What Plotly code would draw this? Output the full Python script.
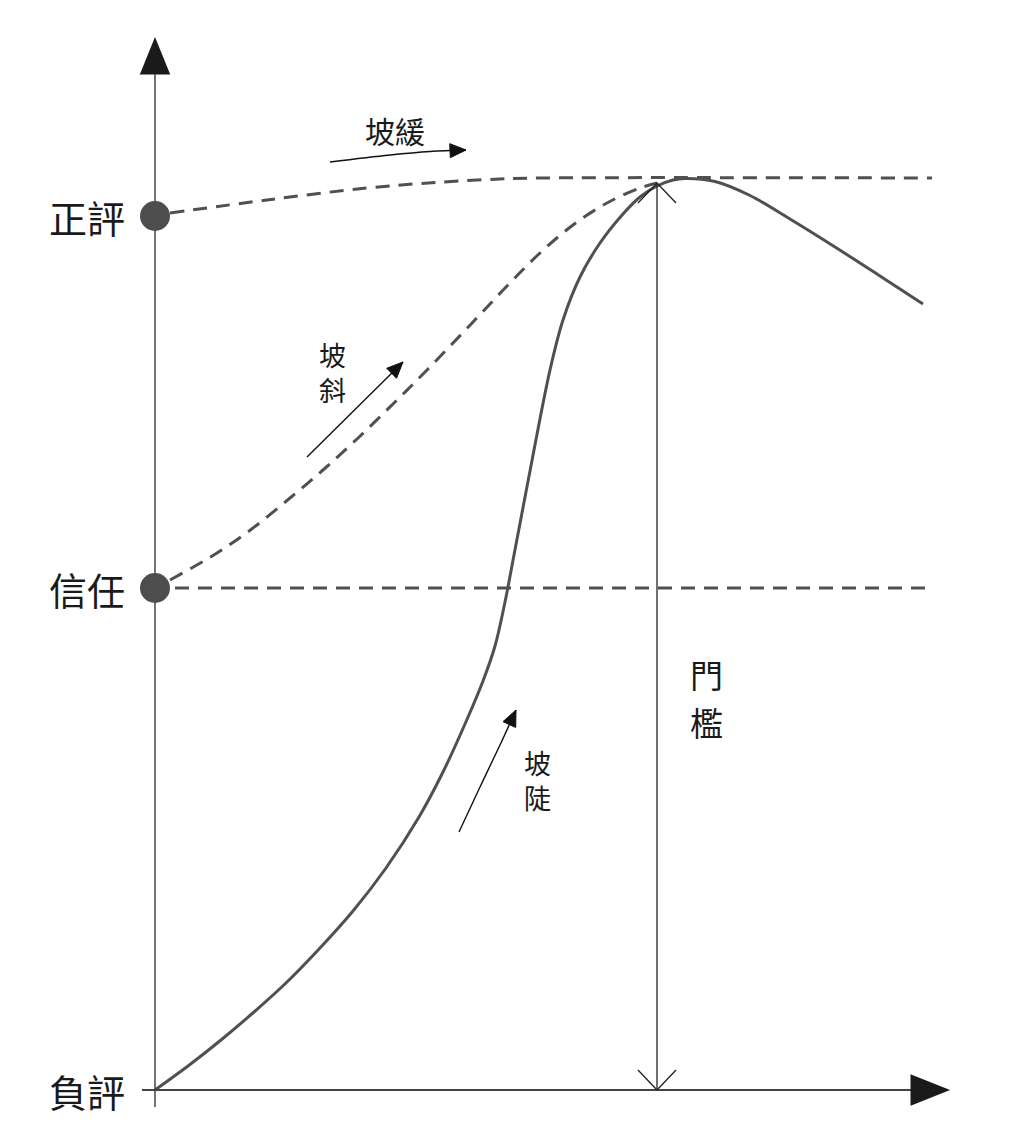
import math
import plotly.graph_objects as go

# reputation levels (y) and time (x), arbitrary units
level_names = ["負評", "信任", "正評"]
level_values = [0.0, 50.2, 87.4]
threshold_x = 50.2
threshold_y = 90.7

# steep path (solid)
steep_x = [0.0, 3.3, 6.6, 9.9, 13.2, 16.5, 19.8, 23.1, 26.4, 28.8, 31.0, 32.8, 34.0, 35.0,
           35.9, 37.5, 39.5, 40.8, 42.5, 44.5, 46.8, 48.5, 50.2, 51.8, 53.0,
           56.0, 59.5, 63.5, 68.0, 72.5, 76.8]
steep_y = [0.0, 2.4, 5.0, 7.8, 10.8, 14.2, 17.9, 22.2, 27.3, 31.8, 36.6, 40.9, 44.4, 48.8,
           53.5, 61.9, 72.0, 77.0, 81.3, 84.7, 87.6, 89.3, 90.4, 91.0, 91.15,
           90.85, 89.45, 87.1, 84.3, 81.4, 78.6]

# slanted path from trust (dashed)
slant_x = [1.5, 6.2, 9.8, 13.5, 16.8, 20.2, 23.8, 27.2, 31.8, 35.2, 38.5, 41.8, 45.2, 48.5, 50.2]
slant_y = [51.0, 53.7, 56.2, 59.2, 62.0, 65.1, 68.6, 72.0, 76.8, 80.4, 83.7, 86.5, 88.7, 90.2, 90.7]

# gentle path from positive (dashed), then flat threshold line
gentle_x = [1.5, 11.2, 21.2, 28.8, 34.5, 38.5, 77.7]
gentle_y = [87.7, 89.0, 90.2, 90.8, 91.1, 91.2, 91.2]

trust_line_x = [2.0, 77.7]

# small direction arrows beside the labels
arrow_gentle_x = [17.5, 23.5, 27.5, 31.1]
arrow_gentle_y = [92.8, 93.5, 93.85, 94.0]
arrow_slant_x = [15.2, 24.8]
arrow_slant_y = [63.3, 72.8]
arrow_steep_x = [30.4, 32.5, 34.5, 36.1]
arrow_steep_y = [25.8, 30.3, 34.5, 38.0]

x_axis_end = 75.7
y_axis_end = 101.7

CURVE = "#505050"
AXIS = "#444444"
TEXT = "#1a1a1a"
FONT = "Noto Sans CJK TC"
DASH = "14px,9px"

fig = go.Figure()

fig.add_trace(go.Scatter(x=gentle_x, y=gentle_y, mode="lines", line_shape="spline",
                         line=dict(color=CURVE, width=3, dash=DASH, smoothing=1)))
fig.add_trace(go.Scatter(x=slant_x, y=slant_y, mode="lines", line_shape="spline",
                         line=dict(color=CURVE, width=3, dash=DASH, smoothing=1)))
fig.add_trace(go.Scatter(x=trust_line_x, y=[level_values[1]] * 2, mode="lines",
                         line=dict(color=CURVE, width=3, dash=DASH)))
fig.add_trace(go.Scatter(x=steep_x, y=steep_y, mode="lines", line_shape="spline",
                         line=dict(color=CURVE, width=3, smoothing=1)))

# axes
fig.add_trace(go.Scatter(x=[0, 0], y=[-1.7, y_axis_end], mode="lines",
                         line=dict(color=AXIS, width=1.5)))
fig.add_trace(go.Scatter(x=[-1.3, x_axis_end], y=[0, 0], mode="lines",
                         line=dict(color=AXIS, width=2)))

# threshold double arrow
fig.add_trace(go.Scatter(x=[threshold_x, threshold_x], y=[0, threshold_y], mode="lines",
                         line=dict(color="#222222", width=1.3)))
for tip, sgn in [(threshold_y, -1), (0.0, 1)]:
    fig.add_trace(go.Scatter(x=[threshold_x - 1.9, threshold_x, threshold_x + 1.9],
                             y=[tip + sgn * 2.0, tip, tip + sgn * 2.0], mode="lines",
                             line=dict(color="#222222", width=1.3)))

# level dots
fig.add_trace(go.Scatter(x=[0, 0], y=level_values[1:], mode="markers",
                         marker=dict(size=30, color="#4d4d4d")))

# direction arrows
arrows = [(arrow_gentle_x, arrow_gentle_y), (arrow_slant_x, arrow_slant_y),
          (arrow_steep_x, arrow_steep_y)]
for ax_, ay_ in arrows:
    fig.add_trace(go.Scatter(x=ax_, y=ay_, mode="lines", line_shape="spline",
                             line=dict(color="#111111", width=1.4)))


def head(x, y, length=1.6, half=0.7):
    dx, dy = x[-1] - x[-2], y[-1] - y[-2]
    n = math.hypot(dx, dy)
    ux, uy = dx / n, dy / n
    bx, by = x[-1] - ux * length, y[-1] - uy * length
    return (f"M{x[-1]},{y[-1]} L{bx - uy * half},{by + ux * half} "
            f"L{bx + uy * half},{by - ux * half} Z")


shapes = []
for ax_, ay_ in arrows:
    shapes.append(dict(type="path", path=head(ax_, ay_), fillcolor="#111111",
                       line=dict(color="#111111", width=1), xref="x", yref="y"))

# axis arrowheads
shapes.append(dict(type="path", xref="x", yref="y", fillcolor="#1a1a1a",
                   line=dict(color="#1a1a1a", width=3),
                   path=f"M-1.3,{y_axis_end} L0,{y_axis_end + 3.2} L1.3,{y_axis_end} Z"))
shapes.append(dict(type="path", xref="x", yref="y", fillcolor="#1a1a1a",
                   line=dict(color="#1a1a1a", width=3),
                   path=f"M{x_axis_end},-1.35 L{x_axis_end + 3.4},0 L{x_axis_end},1.35 Z"))

annotations = []
for name, val in zip(level_names, level_values):
    annotations.append(dict(x=-2.8, y=val, text=name, showarrow=False, xanchor="right",
                            yanchor="middle", font=dict(size=38, color=TEXT, family=FONT)))

annotations.append(dict(x=24.0, y=96.0, text="坡緩", showarrow=False,
                        font=dict(size=30, color=TEXT, family=FONT)))

# vertical labels, one character per line
vertical = [("坡<br>斜", 17.7, 71.8, 27), ("坡<br>陡", 38.2, 31.0, 27)]
for word, vx, vy, size in vertical:
    annotations.append(dict(x=vx, y=vy, text=word, showarrow=False, align="center",
                            font=dict(size=size, color=TEXT, family=FONT)))

# 門檻 placed as two characters, stacked
for ch, cy in zip("門檻", [41.6, 36.8]):
    annotations.append(dict(x=55.1, y=cy, text=ch, showarrow=False,
                            font=dict(size=33, color=TEXT, family=FONT)))

fig.update_layout(
    width=1036, height=1148,
    margin=dict(l=0, r=0, t=0, b=0),
    paper_bgcolor="white", plot_bgcolor="white",
    showlegend=False,
    xaxis=dict(range=[-14.7, 88.9], visible=False, fixedrange=True),
    yaxis=dict(range=[-6.6, 108.2], visible=False, fixedrange=True),
    shapes=shapes,
    annotations=annotations,
)

fig.write_html("out.html")
